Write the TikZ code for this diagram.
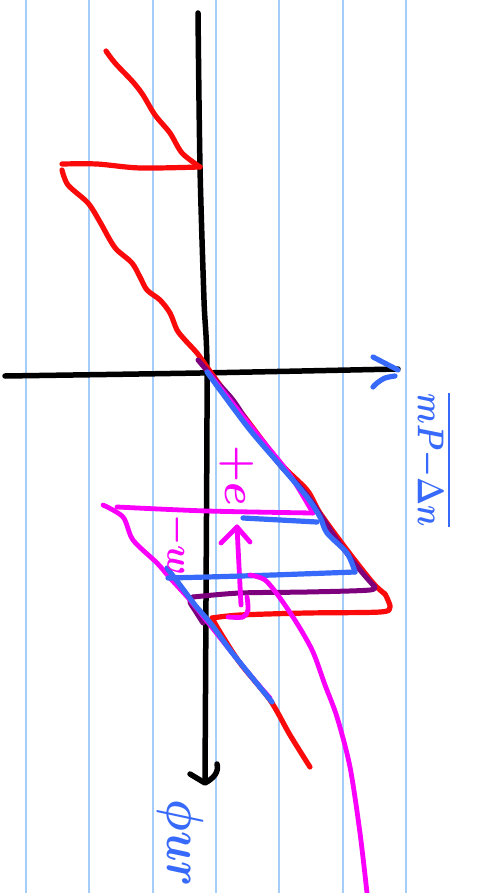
\documentclass[tikz,border=0pt]{standalone}
\usepackage{amsmath}
\usepackage{graphicx}
\definecolor{rule}{RGB}{165,205,250}
\definecolor{penred}{RGB}{250,10,10}
\definecolor{penblue}{RGB}{55,105,250}
\definecolor{penpink}{RGB}{250,0,250}
\definecolor{penpurple}{RGB}{125,0,125}
\begin{document}
\begin{tikzpicture}[x=1pt,y=-1pt,line cap=round,line join=round,
  ruleline/.style={rule,line width=1.6pt},
  axis/.style={black,line width=5.5pt},
  redpen/.style={penred,line width=5.2pt},
  bluepen/.style={penblue,line width=5.2pt},
  pinkpen/.style={penpink,line width=4.8pt},
  purplepen/.style={penpurple,line width=5pt},
  lab/.style={inner sep=0pt,rotate=-90,font=\Huge\boldmath}]
\useasboundingbox (0,0) rectangle (485,893);
\fill[white] (0,0) rectangle (485,893);
% ruled lines
\foreach \x in {26,89,153,216,279,343,406}
  \draw[ruleline] (\x,0) -- (\x,893);
% axes
\draw[axis] plot[smooth] coordinates {(198,13) (200,167) (204,300) (207,372) (206,600) (205,781)};
\draw[axis] (190,774) -- (205,783) .. controls (214,778) and (219,772) .. (217,764);
\draw[axis] plot[smooth] coordinates {(5,376) (200,373) (398,369)};
\draw[bluepen] (373,357) -- (398,370);
\draw[bluepen] plot[smooth] coordinates {(395,376) (385,378) (377,383) (373,387)};
% red
\draw[redpen] plot[smooth] coordinates {(106,51) (115,63) (133,82) (143,95) (155,115) (170,133) (182,153) (200,167)};
\draw[redpen] plot[smooth] coordinates {(200,167) (140,168) (97,164) (62,164)};
\draw[redpen] plot[smooth] coordinates {(62,170) (68,185) (88,203) (100,222) (110,240) (117,250) (132,263) (140,277) (147,290) (160,300) (170,313) (177,330) (185,340) (197,353) (207,367) (220,385) (247,420) (280,463) (307,490) (320,513) (347,550) (373,583) (385,594)};
\draw[redpen] plot[smooth] coordinates {(385,594) (390,607) (380,612) (307,613) (240,615) (212,618)};
\draw[redpen] plot[smooth] coordinates {(212,618) (220,632) (240,663) (270,700) (290,735) (310,767)};
% purple
\draw[purplepen] plot[smooth] coordinates {(198,360) (215,380) (233,400) (253,430) (280,465) (307,495) (337,540) (360,570) (373,585)};
\draw[purplepen] plot[smooth] coordinates {(373,585) (370,590) (307,592) (240,593) (193,597)};
\draw[purplepen] plot[smooth] coordinates {(193,597) (190,602) (196,612) (203,623)};
% pink
\draw[pinkpen] plot[smooth] coordinates {(208,372) (230,400) (262,440) (290,475) (313,513)};
\draw[pinkpen] plot[smooth] coordinates {(117,507) (207,511) (313,513)};
\draw[pinkpen] plot[smooth] coordinates {(103,505) (123,517) (133,540) (157,563) (170,578) (190,600) (210,625) (250,675) (270,698)};
\draw[pinkpen] (237,527) -- (241,605);
\draw[pinkpen] (221,543) -- (237,527) -- (250,542);
\draw[pinkpen] plot[smooth] coordinates {(247,597) (248,610) (243,617) (228,617)};
% blue
\draw[bluepen] plot[smooth] coordinates {(207,372) (220,390) (250,430) (280,465) (307,497) (320,517) (327,533) (347,553) (355,572)};
\draw[bluepen] plot[smooth] coordinates {(355,572) (273,575) (207,577) (168,578)};
\draw[bluepen] (243,518) -- (317,522);
\draw[bluepen] plot[smooth] coordinates {(167,568) (180,585) (195,605) (212,625) (230,650) (250,675) (272,702)};
% pink curve
\draw[pinkpen] plot[smooth] coordinates {(250,575) (265,580) (280,598) (298,625) (313,652) (325,685) (337,717) (350,767) (360,833) (367,893)};
% labels
\node[lab,text=penpink] (lp) at (237,476) {\scalebox{1.7}[1.8]{$+e$}};
\node[lab,text=penpink] (lm) at (177,545) {\scalebox{1.4}[1.5]{$-w$}};
\node[lab,text=penblue] (lr) at (432,460) {\scalebox{1.2}[1.5]{$\overline{mP{-}\Delta n}$}};
\node[lab,text=penblue] (lf) at (181,843) {\scalebox{1.8}[2.1]{$\phi ur$}};
\end{tikzpicture}
\end{document}
